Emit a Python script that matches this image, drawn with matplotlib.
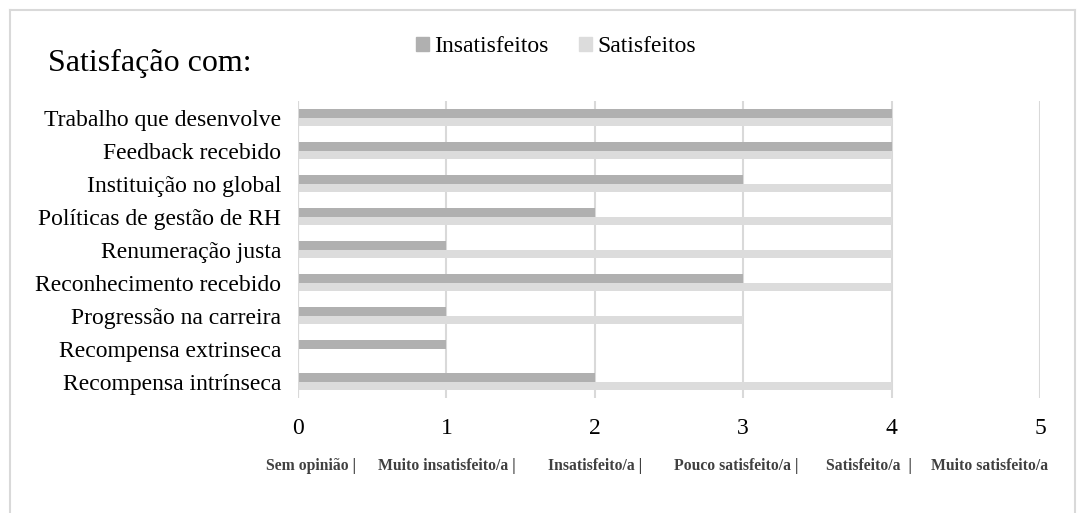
import numpy as np
import matplotlib
matplotlib.use("Agg")
import matplotlib.pyplot as plt
from matplotlib.lines import Line2D
from matplotlib.patches import Patch

plt.rcParams["font.family"] = ["Liberation Serif", "DejaVu Serif"]

categories = [
    "Trabalho que desenvolve",
    "Feedback recebido",
    "Instituição no global",
    "Políticas de gestão de RH",
    "Renumeração justa",
    "Reconhecimento recebido",
    "Progressão na carreira",
    "Recompensa extrinseca",
    "Recompensa intrínseca",
]
insatisfeitos = [4, 4, 3, 2, 1, 3, 1, 1, 2]
satisfeitos = [4, 4, 4, 4, 4, 4, 3, 0, 4]
xticks = [0, 1, 2, 3, 4, 5]
scale_labels = ["Sem opinião |", "Muito insatisfeito/a |", "Insatisfeito/a |",
                "Pouco satisfeito/a |", "Satisfeito/a  |", "Muito satisfeito/a"]
scale_pos = [0.09, 1.0, 2.0, 2.95, 3.85, 4.66]

DARK = "#b0b0b0"
LIGHT = "#dcdcdc"
GRID = "#d9d9d9"

fig = plt.figure(figsize=(10.77, 5.13), dpi=100)
ax = fig.add_axes([0.2767, 0.224, 0.689, 0.579])

y = np.arange(len(categories))
h = 0.26
ax.barh(y - h / 2, insatisfeitos, height=h, color=DARK, zorder=3)
ax.barh(y + h / 2, satisfeitos, height=h, color=LIGHT, zorder=3)

ax.set_xlim(0, 5)
ax.set_ylim(len(categories) - 0.5, -0.5)
ax.set_yticks(y)
ax.set_yticklabels(categories, fontsize=17)
ax.set_xticks(xticks)
ax.set_xticklabels([str(t) for t in xticks], fontsize=17)
ax.tick_params(length=0)
ax.tick_params(axis="y", pad=12)
ax.tick_params(axis="x", pad=14)
ax.grid(axis="x", color=GRID, lw=1.5, zorder=0)
for s in ax.spines.values():
    s.set_visible(False)
ax.axvline(0, color=GRID, lw=1.5, zorder=4)

for lab, pos in zip(scale_labels, scale_pos):
    ax.text(pos, -0.229, lab, transform=ax.get_xaxis_transform(), ha="center",
            va="center", fontsize=11.3, fontweight="bold", color="#404040")

fig.text(48 / 1077, 1 - 63 / 513, "Satisfação com:", fontsize=23, ha="left", va="center")

handles = [Patch(color=DARK), Patch(color=LIGHT)]
fig.legend(handles, ["Insatisfeitos", "Satisfeitos"], loc="center",
           bbox_to_anchor=(556 / 1077, 1 - 47 / 513), ncol=2, frameon=False,
           fontsize=17, handlelength=0.55, handleheight=0.55, handletextpad=0.2,
           columnspacing=1.3)

# outer chart border (bottom is cut off in the original)
for xs, ys in [((10, 10), (513, 10)), ((10, 1075), (10, 10)), ((1075, 1075), (10, 513))]:
    fig.add_artist(Line2D([x / 1077 for x in xs], [1 - v / 513 for v in ys],
                          color="#d9d9d9", lw=1.5))

fig.savefig("out.png", dpi=100)
